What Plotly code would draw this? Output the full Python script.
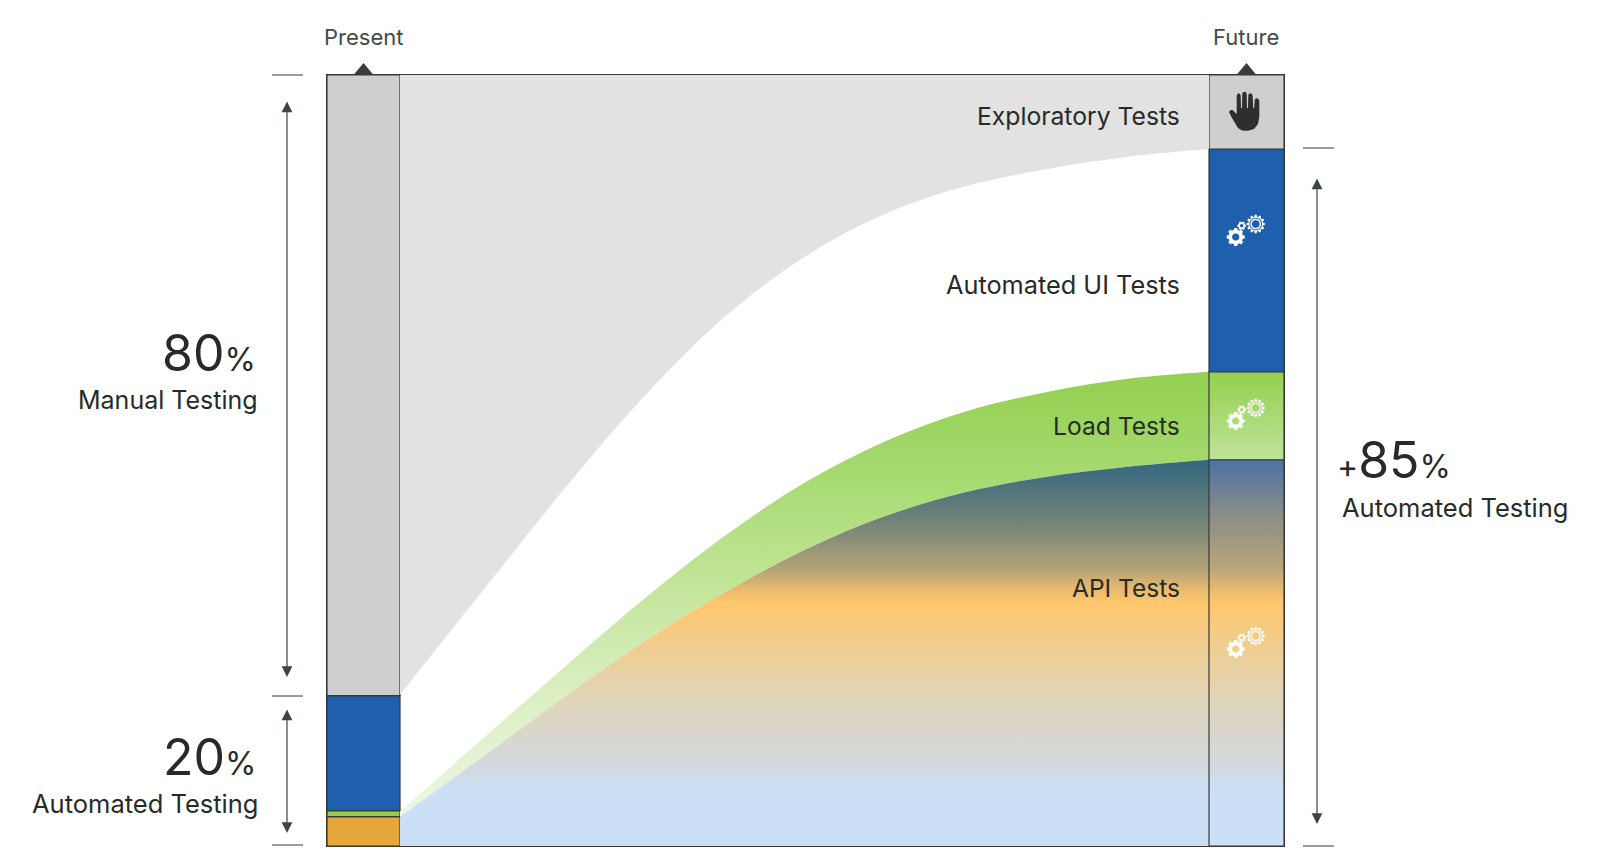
import math
import plotly.graph_objects as go

# ---- data -------------------------------------------------------------
flow_x = [0, 10, 20, 30, 40, 50, 60, 70, 80, 90, 100]
exploratory_floor = [19.6, 32.8, 45.9, 58.1, 68.5, 76.4, 82.0, 85.6, 87.8, 89.4, 90.4]
load_ceiling = [4.5, 13.7, 22.9, 31.9, 40.1, 47.1, 52.5, 56.4, 58.9, 60.6, 61.5]
api_ceiling = [3.8, 11.4, 19.1, 26.4, 32.8, 38.4, 42.8, 45.9, 47.9, 49.2, 50.1]

present_names = ["API", "Load", "Automated UI", "Exploratory"]
present_values = [3.8, 0.8, 14.9, 80.5]
future_names = ["API Tests", "Load Tests", "Automated UI Tests", "Exploratory Tests"]
future_values = [50.1, 11.4, 28.9, 9.6]

present_colors = ["#E5A73A", "#92CF50", "#1E60AE", "#CFCFCF"]
future_colors = ["#1E60AE", "#CFCFCF"]

# ---- page geometry ------------------------------------------------------
W, H = 1609, 862
L, R, T, B = 327, 1284, 75, 846
UX = 8.09
X0 = (L - 400) / UX
X1 = (R - 400) / UX
FONT = "Inter"
INK = "#262B29"
EDGE = "#383838"
EDGE_W = 1.2


def xp(px):
    return (px - L) / (R - L)


def yp(py):
    return (B - py) / (B - T)


fig = go.Figure()

# flows
fig.add_trace(go.Scatter(x=flow_x, y=exploratory_floor, mode="lines", line=dict(width=0, shape="spline"),
                         showlegend=False, hoverinfo="skip"))
fig.add_trace(go.Scatter(x=flow_x, y=[100] * len(flow_x), mode="lines", line=dict(width=0),
                         fill="tonexty", fillcolor="#E2E2E2", showlegend=False, hoverinfo="skip"))
fig.add_trace(go.Scatter(x=flow_x, y=api_ceiling, mode="lines", line=dict(width=0, shape="spline"),
                         showlegend=False, hoverinfo="skip"))
fig.add_trace(go.Scatter(x=flow_x, y=load_ceiling, mode="lines", line=dict(width=0, shape="spline"),
                         fill="tonexty", showlegend=False, hoverinfo="skip",
                         fillgradient=dict(type="vertical", start=61.5, stop=4,
                                           colorscale=[[0, "#93D04F"], [0.2, "#A3D86C"], [0.29, "#ACDD79"],
                                                       [0.51, "#C6E69F"], [0.74, "#DCEFC3"], [1, "#EDF7E3"]])))
fig.add_trace(go.Scatter(x=flow_x, y=[0] * len(flow_x), mode="lines", line=dict(width=0),
                         showlegend=False, hoverinfo="skip"))
api_tail = [[0.33, "#E3B86F"], [0.37, "#FFC76C"], [0.466, "#F2CC8A"], [0.62, "#E0D5BA"], [0.79, "#D3D9DC"],
            [0.85, "#CCDFF6"], [1, "#CBDFF7"]]
fig.add_trace(go.Scatter(x=flow_x, y=api_ceiling, mode="lines", line=dict(width=0, shape="spline"),
                         fill="tonexty", showlegend=False, hoverinfo="skip",
                         fillgradient=dict(type="vertical", start=50.1, stop=0,
                                           colorscale=[[0, "#33677F"], [0.155, "#6F8279"], [0.285, "#B5A376"]] + api_tail)))

# present column
cx_left = X0 / 2
base = 0
for name, v, c in zip(present_names, present_values, present_colors):
    fig.add_trace(go.Bar(x=[cx_left], y=[v], base=[base], width=[-X0], name=name, showlegend=False,
                         marker=dict(color=c, line=dict(color=EDGE, width=EDGE_W)), hoverinfo="skip"))
    base += v

# future column
cx_right = (100 + X1) / 2
api_top = future_values[0]
load_top = api_top + future_values[1]
ui_top = load_top + future_values[2]
fig.add_trace(go.Bar(x=[cx_right], y=[future_values[2]], base=[load_top], width=[X1 - 100], showlegend=False,
                     marker=dict(color=future_colors[0], line=dict(color=EDGE, width=EDGE_W)), hoverinfo="skip"))
fig.add_trace(go.Bar(x=[cx_right], y=[future_values[3]], base=[ui_top], width=[X1 - 100], showlegend=False,
                     marker=dict(color=future_colors[1], line=dict(color=EDGE, width=EDGE_W)), hoverinfo="skip"))
fig.add_trace(go.Scatter(x=[100, 100, X1, X1, 100], y=[0, api_top, api_top, 0, 0], mode="lines",
                         line=dict(color=EDGE, width=EDGE_W), fill="toself", showlegend=False, hoverinfo="skip",
                         fillgradient=dict(type="vertical", start=api_top, stop=0,
                                           colorscale=[[0, "#4D72A2"], [0.155, "#8F8F86"], [0.285, "#BBA67A"]] + api_tail)))
fig.add_trace(go.Scatter(x=[100, 100, X1, X1, 100], y=[api_top, load_top, load_top, api_top, api_top], mode="lines",
                         line=dict(color=EDGE, width=EDGE_W), fill="toself", showlegend=False, hoverinfo="skip",
                         fillgradient=dict(type="vertical", start=load_top, stop=api_top,
                                           colorscale=[[0, "#93D04F"], [1, "#BFE29A"]])))

shapes = []


def poly(points):
    return "M" + " L".join(f"{xp(a):.5f},{yp(b):.5f}" for a, b in points) + " Z"


def ring(cx, cy, r, n=32):
    return poly([(cx + r * math.cos(2 * math.pi * i / n), cy + r * math.sin(2 * math.pi * i / n)) for i in range(n)])


def gear(cx, cy, r, teeth=10):
    pts = []
    for i in range(teeth):
        a = 2 * math.pi * i / teeth
        s = 2 * math.pi / teeth
        for da, rr in [(-0.32, 0.8), (-0.22, 1.0), (0.22, 1.0), (0.32, 0.8)]:
            pts.append((cx + r * rr * math.cos(a + da * s), cy + r * rr * math.sin(a + da * s)))
    return poly(pts)


def shape_path(path, color, opacity=1.0, evenodd=True):
    s = dict(type="path", path=path, xref="paper", yref="paper", fillcolor=color, opacity=opacity,
             line=dict(width=0), layer="above")
    if evenodd:
        s["fillrule"] = "evenodd"
    shapes.append(s)


def gears(dy, opacity):
    shape_path(gear(1235.7, 237 + dy, 9.2, 8) + " " + ring(1235.7, 237 + dy, 3.6), "#FFFFFF", opacity)
    shape_path(gear(1241.7, 225.7 + dy, 4.4, 6) + " " + ring(1241.7, 225.7 + dy, 1.7), "#FFFFFF", opacity)
    shape_path(gear(1255.7, 224 + dy, 9.2, 12) + " " + ring(1255.7, 224 + dy, 6.3) + " " + ring(1255.7, 224 + dy, 5.3)
               + " " + ring(1255.7, 224 + dy, 3.9), "#FFFFFF", opacity)


gears(0, 1)
gears(184, 0.95)
gears(412, 0.95)

# hand
hand = [(1229, 112), (1230.5, 110), (1232.5, 110), (1236.7, 114),
        (1236.7, 96), (1237.5, 94), (1238.7, 93.3), (1240, 94), (1240.7, 96), (1241, 108), (1242, 108),
        (1242.3, 94), (1243, 92.3), (1244.5, 91.7), (1246, 92.3), (1246.7, 94), (1247, 108), (1248, 108),
        (1248.3, 95), (1249, 93.8), (1250.5, 93.3), (1252, 94), (1252.7, 96), (1253.2, 108), (1254.2, 108),
        (1254.7, 100), (1255.5, 98.7), (1257, 98.3), (1258.5, 99), (1259.3, 101), (1259.3, 117), (1258, 124),
        (1254, 129), (1248, 130.7), (1242, 130.5), (1238, 128), (1235, 123), (1232, 118)]
shape_path(poly(hand), "#2E2E2E", evenodd=False)

# pointers above the columns
for c in (363.5, 1246.5):
    shape_path(poly([(c - 10, 75), (c, 63), (c + 10, 75)]), "#3A3A3A", evenodd=False)

# ticks
for a, b, y in [(272, 303, 75), (272, 303, 696), (272, 303, 845), (1303, 1334, 148), (1303, 1334, 846)]:
    shapes.append(dict(type="line", xref="paper", yref="paper", x0=xp(a), x1=xp(b), y0=yp(y), y1=yp(y),
                       line=dict(color=EDGE, width=1)))

ann = []


def text(x, y, s, size, anchor, color=INK):
    ann.append(dict(x=xp(x), y=yp(y), xref="paper", yref="paper", text=s, showarrow=False, xanchor=anchor,
                    yanchor="middle", align=anchor, font=dict(family=FONT, size=size, color=color)))


def darrow(x, y0, y1):
    ann.append(dict(x=xp(x), y=yp(y1), xref="paper", yref="paper", text="", showarrow=True, axref="pixel", ayref="pixel",
                    ax=0, ay=y0 - y1, arrowside="end+start", arrowhead=2, arrowsize=1.8, arrowwidth=1.2,
                    arrowcolor="#3C4540", startarrowhead=2, startarrowsize=1.8))


darrow(287, 100, 677)
darrow(287, 708, 833)
darrow(1317, 177, 824)

text(363, 37, "Present", 22, "center", "#444A47")
text(1246, 37, "Future", 22, "center", "#444A47")
text(1181.5, 116, future_names[3], 24.7, "right")
text(1181.5, 284, future_names[2], 25.3, "right")
text(1181.5, 426, future_names[1], 24.6, "right")
text(1181.5, 588, future_names[0], 24.5, "right")

pct = "<span style='font-size:32px'>%</span>"
text(258, 353, "80" + pct, 50, "right")
text(260, 400, "Manual Testing", 25, "right")
text(258, 757, "20" + pct, 50, "right")
text(260, 803, "Automated Testing", 25.5, "right")
text(1335, 459.5, "<span style='font-size:32px'>+</span>85" + pct, 50, "left")
text(1340, 507, "Automated Testing", 25.5, "left")

fig.update_layout(
    width=W, height=H, autosize=False, barmode="overlay", plot_bgcolor="white", paper_bgcolor="white",
    margin=dict(l=L, r=W - R, t=T, b=H - B, pad=0), showlegend=False,
    xaxis=dict(range=[X0, X1], visible=True, showgrid=False, zeroline=False, showticklabels=False, ticks="",
               showline=True, mirror=True, linecolor=EDGE, linewidth=1),
    yaxis=dict(range=[0, 100], visible=True, showgrid=False, zeroline=False, showticklabels=False, ticks="",
               showline=True, mirror=True, linecolor=EDGE, linewidth=1),
    shapes=shapes, annotations=ann,
)
fig.write_html("out.html", config=dict(displayModeBar=False),
               post_script="document.body.style.margin='0';window.dispatchEvent(new Event('resize'));")
